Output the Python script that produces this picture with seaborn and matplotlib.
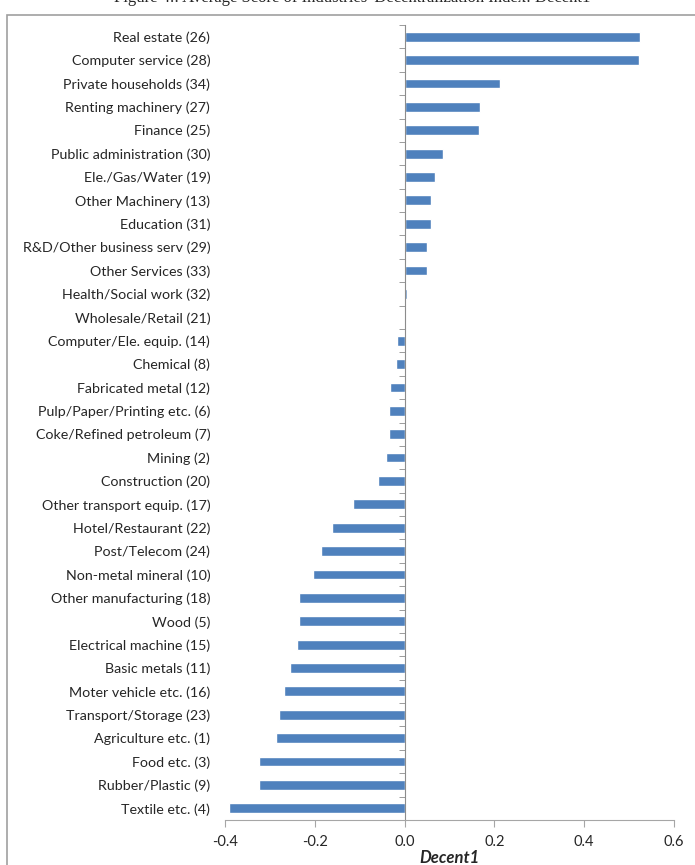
import matplotlib
matplotlib.use("Agg")
import matplotlib.pyplot as plt
import matplotlib.patches as patches
from matplotlib.ticker import FixedLocator
import seaborn as sns
import pandas as pd

industries = [
    "Real estate (26)", "Computer service (28)", "Private households (34)",
    "Renting machinery (27)", "Finance (25)", "Public administration (30)",
    "Ele./Gas/Water (19)", "Other Machinery (13)", "Education (31)",
    "R&D/Other business serv (29)", "Other Services (33)", "Health/Social work (32)",
    "Wholesale/Retail (21)", "Computer/Ele. equip. (14)", "Chemical (8)",
    "Fabricated metal (12)", "Pulp/Paper/Printing etc. (6)", "Coke/Refined petroleum (7)",
    "Mining (2)", "Construction (20)", "Other transport equip. (17)",
    "Hotel/Restaurant (22)", "Post/Telecom (24)", "Non-metal mineral (10)",
    "Other manufacturing (18)", "Wood (5)", "Electrical machine (15)",
    "Basic metals (11)", "Moter vehicle etc. (16)", "Transport/Storage (23)",
    "Agriculture etc. (1)", "Food etc. (3)", "Rubber/Plastic (9)", "Textile etc. (4)",
]
decent1 = [
    0.525, 0.523, 0.212, 0.168, 0.165, 0.085,
    0.067, 0.059, 0.058, 0.050, 0.049, 0.005,
    0.001, -0.017, -0.020, -0.033, -0.034, -0.034,
    -0.041, -0.059, -0.116, -0.162, -0.186, -0.204,
    -0.235, -0.236, -0.239, -0.255, -0.269, -0.279,
    -0.286, -0.324, -0.325, -0.391,
]
xticks = [-0.4, -0.2, 0.0, 0.2, 0.4, 0.6]

df = pd.DataFrame({"industry": industries, "Decent1": decent1})

sns.set_style("white")
plt.rcParams["font.family"] = ["Lato", "DejaVu Sans"]

W, H = 695, 865
fig = plt.figure(figsize=(W / 100, H / 100), dpi=100)
ax = fig.add_axes([225 / W, 1 - 820 / H, (674 - 225) / W, (820 - 25) / H])

sns.barplot(data=df, x="Decent1", y="industry", orient="h", color="#4F81BD",
            width=0.42, saturation=1, ax=ax)

ax.set_xlim(-0.4, 0.6)
ax.set_ylim(len(industries) - 0.5, -0.5)

for s in ["top", "right"]:
    ax.spines[s].set_visible(False)
ax.spines["left"].set_position(("data", 0))
ax.spines["left"].set_color("#8C8C8C")
ax.spines["bottom"].set_color("#A6A6A6")

ax.set_xticks(xticks)
ax.set_xticklabels([f"{v:.1f}" for v in xticks], fontsize=10.5)
ax.tick_params(axis="x", direction="out", length=5, color="#A6A6A6", pad=6,
               bottom=True)

ax.yaxis.set_minor_locator(FixedLocator([k + 0.5 for k in range(-1, len(industries))]))
ax.tick_params(axis="y", which="major", length=0, pad=140, labelsize=10.3, left=True)
ax.tick_params(axis="y", which="minor", length=4, color="#8C8C8C", direction="out", left=True)
ax.set_ylabel("")

ax.set_xlabel("Decent1", fontsize=12, fontweight="bold", fontstyle="italic")
ax.xaxis.set_label_coords(0.5, -0.038)

# outer chart frame
fig.patches.append(patches.Rectangle((6.5 / W, -0.05), 1.0, 1 - 15 / H + 0.05,
                                     transform=fig.transFigure, fill=False,
                                     edgecolor="#A0A0A0", linewidth=1.2))
# caption above the chart, cut by the top edge as in the source image
fig.text(352 / W, 1 - 1.5 / H, "Figure 4.: Average Score of Industries' Decentralization Index: Decent1",
         ha="center", va="baseline", fontsize=12, family=["Liberation Serif"])

fig.savefig("out.png", dpi=100)
